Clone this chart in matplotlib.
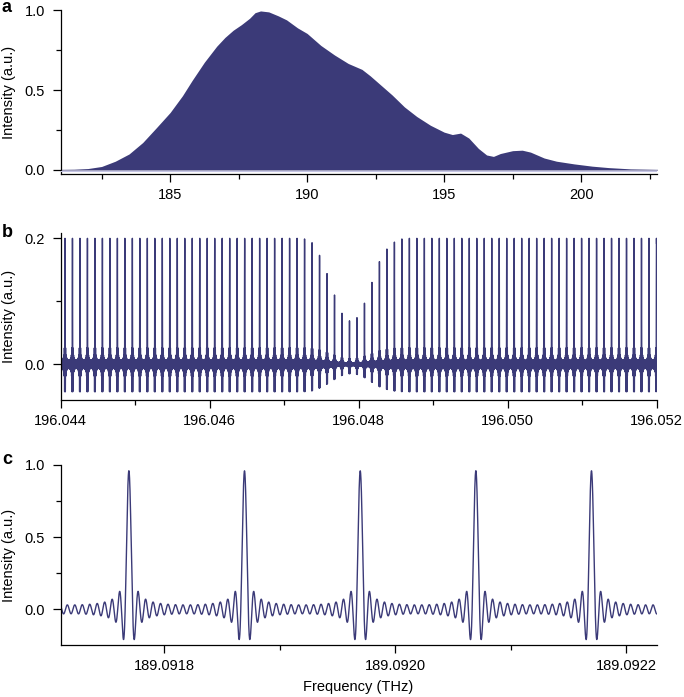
import numpy as np
import matplotlib
matplotlib.use("Agg")
import matplotlib.pyplot as plt
from matplotlib.ticker import MultipleLocator, FormatStrFormatter

plt.rcParams['font.family'] = ['Liberation Sans', 'DejaVu Sans']
plt.rcParams['font.size'] = 10.5

# ---------------- data ----------------
# Panel a: spectral envelope (THz, a.u.)
a_freq = [181.0, 181.5, 182.0, 182.5, 183.0, 183.5, 184.0, 184.5, 185.0, 185.45,
          185.8, 186.25, 186.7, 187.0, 187.3, 187.6, 187.9, 188.1, 188.3, 188.6,
          188.95, 189.25, 189.65, 190.0, 190.5, 191.0, 191.5, 192.0, 192.3, 192.6,
          193.1, 193.55, 194.0, 194.5, 195.0, 195.3, 195.6, 195.9, 196.25, 196.55,
          196.8, 197.05, 197.5, 197.85, 198.15, 198.65, 199.1, 199.75, 200.4, 201.0,
          201.8, 202.8]
a_intensity = [0.004, 0.005, 0.009, 0.022, 0.055, 0.10, 0.172, 0.265, 0.36, 0.465,
               0.56, 0.675, 0.775, 0.83, 0.875, 0.91, 0.95, 0.985, 0.996, 0.99,
               0.965, 0.94, 0.89, 0.855, 0.78, 0.72, 0.667, 0.63, 0.59, 0.545,
               0.47, 0.395, 0.335, 0.28, 0.237, 0.222, 0.231, 0.2, 0.135, 0.094,
               0.085, 0.103, 0.121, 0.124, 0.112, 0.075, 0.055, 0.038, 0.024, 0.015,
               0.007, 0.004]

# Panel b: comb lines (first line, spacing in THz, line heights)
b_first_line = 196.04406
b_line_spacing = 0.0001005
b_line_heights = [0.200] * 32 + [0.199, 0.193, 0.173, 0.144, 0.110, 0.081, 0.069,
                                 0.074, 0.097, 0.130, 0.163, 0.183, 0.194, 0.199] + [0.200] * 34

# Panel c: zoom on individual comb lines
c_line_freqs = [189.0917692, 189.0918693, 189.0919695, 189.0920696, 189.0921697]
c_line_heights = [0.96, 0.96, 0.96, 0.96, 0.96]
c_line_spacing = 0.00010013

resolution_factor = 31   # comb spacing / sinc zero spacing (instrument line shape)

COL = '#3b3a78'


def comb_trace(f, centers, heights, spacing, pad=12):
    centers = list(centers)
    heights = list(heights)
    left = [centers[0] - spacing * (i + 1) for i in range(pad)]
    right = [centers[-1] + spacing * (i + 1) for i in range(pad)]
    allc = left[::-1] + centers + right
    allh = [heights[0]] * pad + heights + [heights[-1]] * pad
    y = np.zeros_like(f)
    for c, h in zip(allc, allh):
        y += h * np.sinc(resolution_factor * (f - c) / spacing)
    return y


fig = plt.figure(figsize=(6.84, 6.97), dpi=100)
W, H = 684.0, 697.0
L, R = 60.5, 656.5


def make_axes(top, bottom):
    ax = fig.add_axes([L / W, 1 - bottom / H, (R - L) / W, (bottom - top) / H])
    for s in ['top', 'right']:
        ax.spines[s].set_visible(False)
    for s in ['left', 'bottom']:
        ax.spines[s].set_linewidth(0.9)
    ax.tick_params(which='major', direction='out', length=5.5, width=0.9, labelsize=10.5)
    ax.tick_params(which='minor', direction='out', length=3.8, width=0.9)
    ax.tick_params(axis='x', which='major', pad=4.5)
    ax.tick_params(axis='y', which='major', pad=5.5)
    ax.set_ylabel('Intensity (a.u.)', fontsize=10.5)
    ax.yaxis.set_label_coords((16 - L) / (R - L), 0.5)
    return ax


# ---- panel a ----
ax_a = make_axes(10.3, 174.3)
ax_a.fill_between(a_freq, 0, a_intensity, color=COL, lw=0, zorder=2)
ax_a.axhline(-0.006, color='#c4c4e4', lw=0.8, zorder=3)
ax_a.set_xlim(181.0, 202.75)
ax_a.set_ylim(-0.027, 1.0)
ax_a.xaxis.set_major_locator(MultipleLocator(5))
ax_a.xaxis.set_minor_locator(MultipleLocator(2.5))
ax_a.yaxis.set_major_locator(MultipleLocator(0.5))
ax_a.yaxis.set_minor_locator(MultipleLocator(0.25))
ax_a.yaxis.set_major_formatter(FormatStrFormatter('%.1f'))

# ---- panel b ----
ax_b = make_axes(233.3, 400.0)
b_centers = [b_first_line + i * b_line_spacing for i in range(len(b_line_heights))]
fb = np.sort(np.concatenate([np.linspace(196.044, 196.052, 60001), b_centers]))
yb = comb_trace(fb, b_centers, b_line_heights, b_line_spacing)
ax_b.plot(fb, yb, color=COL, lw=1.0)
ax_b.set_xlim(196.044, 196.052)
ax_b.set_ylim(-0.0567, 0.208)
ax_b.xaxis.set_major_locator(MultipleLocator(0.002))
ax_b.xaxis.set_minor_locator(MultipleLocator(0.001))
ax_b.xaxis.set_major_formatter(FormatStrFormatter('%.3f'))
ax_b.yaxis.set_major_locator(MultipleLocator(0.2))
ax_b.yaxis.set_minor_locator(MultipleLocator(0.1))
ax_b.yaxis.set_major_formatter(FormatStrFormatter('%.1f'))

# ---- panel c ----
ax_c = make_axes(465.0, 645.0)
fc = np.sort(np.concatenate([np.linspace(189.09171, 189.092226, 8001), c_line_freqs]))
yc = comb_trace(fc, c_line_freqs, c_line_heights, c_line_spacing)
ax_c.plot(fc, yc, color=COL, lw=1.0)
ax_c.set_xlim(189.09171, 189.092226)
ax_c.set_ylim(-0.247, 1.0)
ax_c.xaxis.set_major_locator(MultipleLocator(0.0002))
ax_c.xaxis.set_minor_locator(MultipleLocator(0.0001))
ax_c.xaxis.set_major_formatter(FormatStrFormatter('%.4f'))
ax_c.yaxis.set_major_locator(MultipleLocator(0.5))
ax_c.yaxis.set_minor_locator(MultipleLocator(0.25))
ax_c.yaxis.set_major_formatter(FormatStrFormatter('%.1f'))

fig.text(358.5 / W, 1 - 687 / H, 'Frequency (THz)', ha='center', va='center', fontsize=10.5)

for lab, y in [('a', 7), ('b', 233), ('c', 460)]:
    fig.text(2 / W, 1 - y / H, lab, ha='left', va='center', fontsize=13, fontweight='bold')

fig.savefig('out.png', dpi=100)
